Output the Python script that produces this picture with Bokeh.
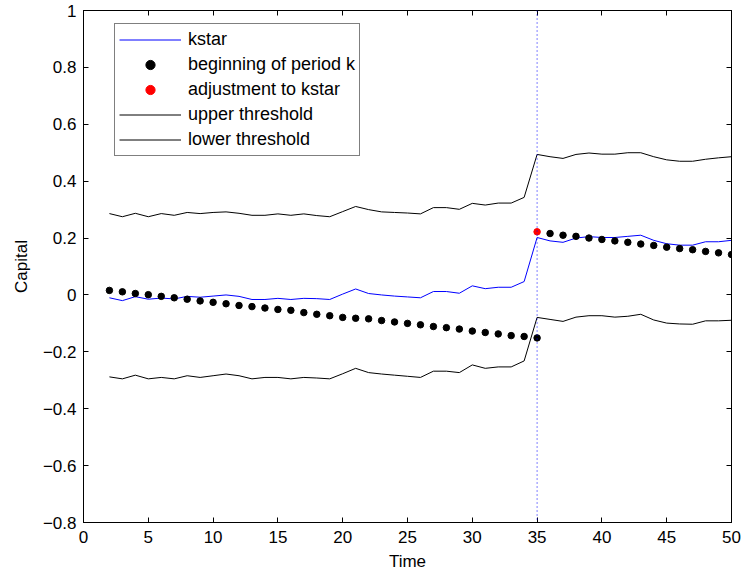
from bokeh.plotting import figure
from bokeh.models import (Range1d, FixedTicker, CustomJSTickFormatter, LinearAxis,
                          Span, Legend, LegendItem, ColumnDataSource, CustomLabelingPolicy)
from bokeh.embed import file_html
from bokeh.resources import INLINE

# ---------------- data ----------------
time = list(range(2, 51))

kstar = [-0.010, -0.020, -0.006, -0.015, -0.011, -0.014, -0.005, -0.008, -0.004, 0.000,
         -0.005, -0.016, -0.016, -0.012, -0.016, -0.012, -0.013, -0.016, 0.003, 0.021,
         0.005, 0.000, -0.004, -0.007, -0.010, 0.012, 0.012, 0.006, 0.032, 0.022,
         0.027, 0.027, 0.047, 0.202, 0.190, 0.185, 0.200, 0.205, 0.202, 0.202,
         0.206, 0.210, 0.192, 0.180, 0.175, 0.175, 0.187, 0.187, 0.192]

upper = [0.286, 0.275, 0.287, 0.275, 0.286, 0.280, 0.290, 0.286, 0.290, 0.292,
         0.287, 0.280, 0.280, 0.285, 0.280, 0.285, 0.279, 0.275, 0.293, 0.311,
         0.300, 0.292, 0.290, 0.288, 0.285, 0.307, 0.307, 0.301, 0.322, 0.316,
         0.323, 0.323, 0.343, 0.494, 0.486, 0.480, 0.494, 0.499, 0.495, 0.495,
         0.500, 0.500, 0.486, 0.475, 0.470, 0.470, 0.477, 0.482, 0.486]

lower = [-0.288, -0.295, -0.282, -0.295, -0.290, -0.295, -0.284, -0.290, -0.284, -0.278,
         -0.284, -0.295, -0.290, -0.290, -0.295, -0.290, -0.292, -0.295, -0.277, -0.258,
         -0.273, -0.278, -0.282, -0.286, -0.290, -0.268, -0.268, -0.273, -0.246, -0.258,
         -0.253, -0.253, -0.232, -0.079, -0.086, -0.093, -0.078, -0.073, -0.073, -0.078,
         -0.075, -0.068, -0.088, -0.099, -0.102, -0.103, -0.091, -0.091, -0.089]

k_begin = [0.016, 0.011, 0.005, 0.001, -0.005, -0.010, -0.015, -0.021, -0.026, -0.031,
           -0.037, -0.041, -0.046, -0.051, -0.054, -0.062, -0.068, -0.073, -0.079, -0.082,
           -0.084, -0.090, -0.095, -0.100, -0.105, -0.111, -0.115, -0.120, -0.127, -0.132,
           -0.137, -0.143, -0.146, -0.151, 0.216, 0.210, 0.206, 0.200, 0.195, 0.190,
           0.185, 0.179, 0.174, 0.168, 0.163, 0.159, 0.153, 0.148, 0.142]

adjust_time = [35]
adjust_value = [0.222]

x_ticks = [0, 5, 10, 15, 20, 25, 30, 35, 40, 45, 50]
y_ticks = [-0.8, -0.6, -0.4, -0.2, 0, 0.2, 0.4, 0.6, 0.8, 1]

# ---------------- figure ----------------
FONT = "Liberation Sans"

p = figure(frame_width=648, frame_height=512,
           x_range=Range1d(0, 50), y_range=Range1d(-0.8, 1),
           output_backend="svg", toolbar_location=None,
           min_border_left=83, min_border_right=14, min_border_top=10, min_border_bottom=53)
p.background_fill_color = "white"
p.border_fill_color = "white"
p.outline_line_color = "black"
p.outline_line_width = 1
p.xgrid.visible = False
p.ygrid.visible = False

fmt = CustomJSTickFormatter(code="""
const v = Math.round(tick*10)/10;
const s = Math.abs(v).toString();
return (v < 0 ? "\\u2212" : "") + s;
""")

def style_axis(ax, ticks, show_labels):
    ax.ticker = FixedTicker(ticks=ticks)
    ax.formatter = fmt
    ax.major_tick_in = 5
    ax.major_tick_out = 0
    ax.minor_tick_line_color = None
    ax.axis_line_color = "black"
    ax.major_tick_line_color = "black"
    ax.major_label_text_font = FONT
    ax.major_label_text_color = "black"
    if show_labels:
        ax.major_label_text_font_size = "17px"
    else:
        # tick marks only: no labels are drawn on the mirrored axes
        ax.major_label_policy = CustomLabelingPolicy(code="return []")
        ax.major_label_text_font_size = "0px"
        ax.major_label_standoff = 0

style_axis(p.xaxis[0], x_ticks, True)
style_axis(p.yaxis[0], y_ticks, True)
p.xaxis[0].major_label_standoff = 8
p.yaxis[0].major_label_standoff = 7
p.xaxis[0].axis_label = "Time"
p.yaxis[0].axis_label = "Capital"
for ax in (p.xaxis[0], p.yaxis[0]):
    ax.axis_label_text_font = FONT
    ax.axis_label_text_font_size = "17px"
    ax.axis_label_text_font_style = "normal"
    ax.axis_label_text_color = "black"
p.xaxis[0].axis_label_standoff = 6
p.yaxis[0].axis_label_standoff = 9

top_ax = LinearAxis()
right_ax = LinearAxis()
style_axis(top_ax, x_ticks, False)
style_axis(right_ax, y_ticks, False)
p.add_layout(top_ax, "above")
p.add_layout(right_ax, "right")

# ---------------- glyphs ----------------
src = ColumnDataSource(dict(t=time, kstar=kstar, upper=upper, lower=lower, kb=k_begin))

vline = Span(location=adjust_time[0], dimension="height", line_color="#0000ff",
             line_dash="1 3", line_width=1)
p.add_layout(vline)

r_k = p.line("t", "kstar", source=src, line_color="#0000ff", line_width=1)
r_up = p.line("t", "upper", source=src, line_color="black", line_width=1)
r_lo = p.line("t", "lower", source=src, line_color="black", line_width=1)
r_kb = p.scatter("t", "kb", source=src, size=6.5, fill_color="black", line_color="black")
r_adj = p.scatter(adjust_time, adjust_value, size=6.5, fill_color="#ff0000", line_color="#ff0000")

legend = Legend(items=[
    LegendItem(label="kstar", renderers=[r_k]),
    LegendItem(label="beginning of period k", renderers=[r_kb]),
    LegendItem(label="adjustment to kstar", renderers=[r_adj]),
    LegendItem(label="upper threshold", renderers=[r_up]),
    LegendItem(label="lower threshold", renderers=[r_lo]),
], location=(31, 366))
legend.label_text_font = FONT
legend.label_text_font_size = "18px"
legend.label_text_color = "black"
legend.border_line_color = "black"
legend.border_line_width = 1
legend.background_fill_color = "white"
legend.background_fill_alpha = 1
legend.padding = 4
legend.spacing = 2
legend.label_height = 23
legend.glyph_height = 23
legend.glyph_width = 62
legend.label_standoff = 7
legend.margin = 0
p.add_layout(legend, "center")

open("out.html", "w").write(file_html(p, INLINE))
